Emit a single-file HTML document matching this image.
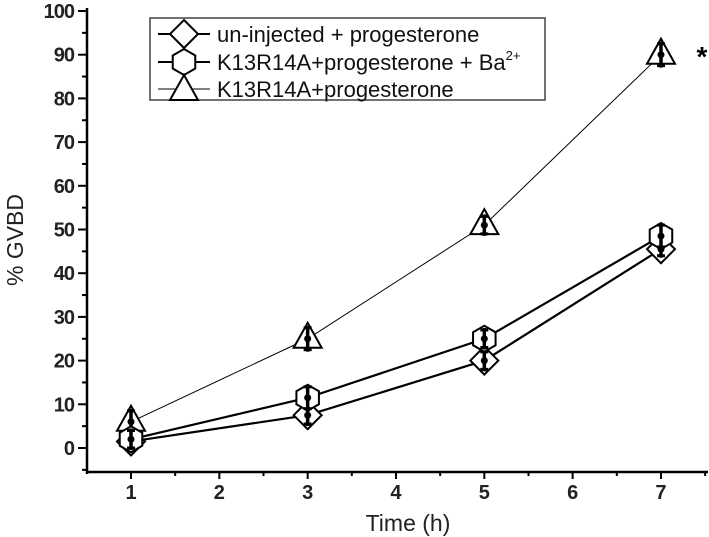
<!DOCTYPE html>
<html><head><meta charset="utf-8"><style>
body{margin:0;background:#fff}
svg{display:block;font-family:"Liberation Sans",Arial,sans-serif}
</style></head><body>
<svg id="chart" width="709" height="537" viewBox="0 0 709 537" xmlns="http://www.w3.org/2000/svg"></svg>
<script>
const categories=[1,3,5,7];
const uninjected=[1.5,7.5,20,45.5];
const k13Ba=[2,11.5,25,48.5];
const k13=[6,25,51,90];
const errUn=[2,2,2,1.5];
const errBa=[2,2.5,2,2.5];
const errK=[2.5,2.5,2,2.5];
const yTicks=[0,10,20,30,40,50,60,70,80,90,100];
const xTicks=[1,2,3,4,5,6,7];
const NS="http://www.w3.org/2000/svg";
const svg=document.getElementById('chart');
function X(v){return 131+(v-1)*88.33;}
function Y(v){return 448-v*4.37;}
function mk(tag,attrs,parent){const e=document.createElementNS(NS,tag);for(const k in attrs)e.setAttribute(k,attrs[k]);(parent||svg).appendChild(e);return e;}
const ax=mk('line',{x1:87,y1:8,x2:87,y2:474,stroke:'#000','stroke-width':2.5});


const bx=mk('line',{x1:86,y1:472,x2:708,y2:472,stroke:'#000','stroke-width':2.5});


for(let v=-5;v<=100;v+=5){const major=v%10===0;mk('line',{x1:major?78:82,y1:Y(v),x2:87,y2:Y(v),stroke:'#000','stroke-width':2});}
yTicks.forEach(t=>{const e=mk('text',{x:74,y:Y(t)+7,'text-anchor':'end','font-size':20,'font-weight':'bold',fill:'#222','letter-spacing':-1});e.textContent=t;

});
for(let v=1;v<=7.5;v+=0.5){const major=v%1===0;mk('line',{x1:X(v),y1:472,x2:X(v),y2:major?479:476,stroke:'#000','stroke-width':2});}
xTicks.forEach(t=>{const e=mk('text',{x:X(t),y:499,'text-anchor':'middle','font-size':20,'font-weight':'bold',fill:'#222'});e.textContent=t;

});
const yt=mk('text',{x:0,y:0,transform:'translate(23,240) rotate(-90)','text-anchor':'middle','font-size':23,fill:'#222'});yt.textContent='% GVBD';


const xt=mk('text',{x:408,y:531,'text-anchor':'middle','font-size':23,fill:'#222'});xt.textContent='Time (h)';


function marker(type,cx,cy,g){
 if(type==='diamond')mk('polygon',{points:`${cx},${cy-14} ${cx+14},${cy} ${cx},${cy+14} ${cx-14},${cy}`,fill:'#fff',stroke:'#000','stroke-width':2},g);
 else if(type==='hex'){const r=13;let p=[];for(let i=0;i<6;i++){const a=Math.PI/6+i*Math.PI/3;p.push((cx+r*Math.cos(a))+','+(cy+r*Math.sin(a)));}mk('polygon',{points:p.join(' '),fill:'#fff',stroke:'#000','stroke-width':2},g);}
 else mk('polygon',{points:`${cx},${cy-16} ${cx+14},${cy+9} ${cx-14},${cy+9}`,fill:'#fff',stroke:'#000','stroke-width':2},g);
}
function series(vals,errs,type,w,name){
 const g=mk('g',{});
 
 
 mk('polyline',{points:vals.map((v,i)=>X(categories[i])+','+Y(v)).join(' '),fill:'none',stroke:'#000','stroke-width':w},g);
 vals.forEach((v,i)=>{const cx=X(categories[i]),cy=Y(v);marker(type,cx,cy,g);
  mk('line',{x1:cx,y1:Y(v+errs[i])-2,x2:cx,y2:Y(v-errs[i])+2,stroke:'#000','stroke-width':3.5},g);
  mk('line',{x1:cx-4,y1:Y(v+errs[i]),x2:cx+4,y2:Y(v+errs[i]),stroke:'#000','stroke-width':3},g);
  mk('line',{x1:cx-4,y1:Y(v-errs[i]),x2:cx+4,y2:Y(v-errs[i]),stroke:'#000','stroke-width':3},g);
  mk('circle',{cx:cx,cy:cy,r:3.5,fill:'#000'},g);});
}
series(k13,errK,'tri',1,'series-k13r14a');
series(uninjected,errUn,'diamond',2.2,'series-uninjected');
series(k13Ba,errBa,'hex',2.2,'series-k13r14a-ba');
const star=mk('text',{x:702,y:66,'text-anchor':'middle','font-size':28,'font-weight':'bold'});star.textContent='*';


const lg=mk('g',{});


mk('rect',{x:150,y:18,width:395,height:82,fill:'#fff',stroke:'#444','stroke-width':1.5},lg);
const items=[['diamond','un-injected + progesterone',2,34],['hex','K13R14A+progesterone + Ba',2,62],['tri','K13R14A+progesterone',1,89]];
items.forEach(it=>{const g=mk('g',{},lg);
 
 
 mk('line',{x1:158,y1:it[3],x2:210,y2:it[3],stroke:'#000','stroke-width':it[2]},g);
 marker(it[0],184,it[3]+(it[0]==='tri'?2:0),g);
 const t=mk('text',{x:217,y:it[3]+8,'font-size':22,fill:'#111'},g);t.textContent=it[1];
 if(it[0]==='hex'){const s=mk('tspan',{dy:-10,'font-size':13},t);s.textContent='2+';}
});
</script>
</body></html>
